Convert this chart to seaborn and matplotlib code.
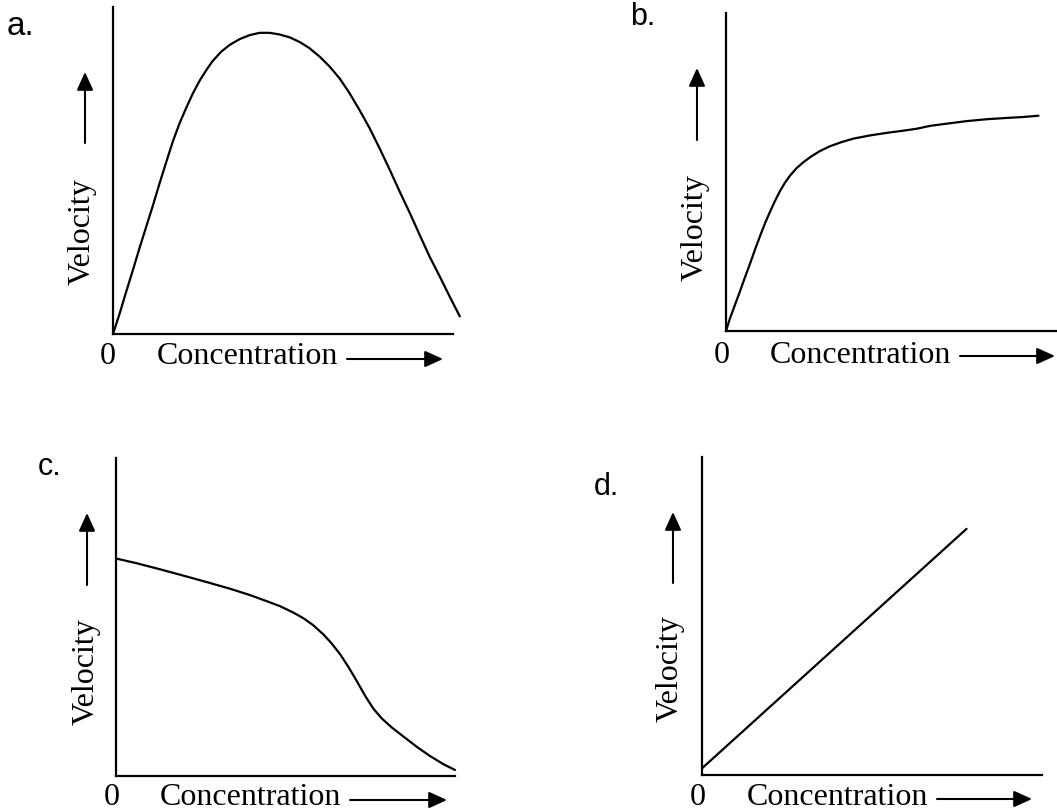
import numpy as np
import pandas as pd
import matplotlib
matplotlib.use("Agg")
import matplotlib.pyplot as plt
import seaborn as sns
from matplotlib.patches import FancyArrowPatch

sns.set_theme(style="white")
plt.rcParams['font.family'] = ['Liberation Serif', 'DejaVu Serif']

# ---------------- data (arbitrary units, axes span 0..10) ----------------
panel_labels = ["a.", "b.", "c.", "d."]
x_label = "Concentration"
y_label = "Velocity"
origin_label = "0"

conc_a = [0.0, 0.20, 0.39, 0.59, 0.78, 0.98, 1.18, 1.37, 1.57, 1.76, 1.96,
          2.16, 2.35, 2.55, 2.75, 2.94, 3.19, 3.43, 3.73, 4.02, 4.31, 4.61,
          4.90, 5.20, 5.49, 5.78, 6.08, 6.37, 6.67, 6.96, 7.25, 7.55, 7.84,
          8.14, 8.43, 8.73, 9.02, 9.31, 9.61, 9.90, 10.2]
vel_a = [0.0, 0.64, 1.30, 1.97, 2.63, 3.29, 3.95, 4.61, 5.27, 5.89, 6.45,
         6.93, 7.36, 7.75, 8.08, 8.36, 8.64, 8.84, 9.02, 9.14, 9.21, 9.21,
         9.16, 9.07, 8.93, 8.74, 8.48, 8.18, 7.81, 7.36, 6.85, 6.29, 5.68,
         5.02, 4.36, 3.70, 3.03, 2.37, 1.76, 1.15, 0.54]

conc_b = [0.0, 0.12, 0.27, 0.42, 0.57, 0.73, 0.88, 1.03, 1.18, 1.33, 1.48,
          1.63, 1.78, 1.93, 2.13, 2.34, 2.59, 2.84, 3.14, 3.49, 3.85, 4.35,
          4.85, 5.36, 5.76, 6.16, 6.67, 7.27, 7.88, 8.48, 8.98, 9.44]
vel_b = [0.0, 0.40, 0.82, 1.24, 1.68, 2.13, 2.57, 2.99, 3.39, 3.75, 4.09,
         4.40, 4.66, 4.88, 5.12, 5.31, 5.50, 5.66, 5.81, 5.94, 6.05, 6.15,
         6.23, 6.30, 6.36, 6.45, 6.52, 6.60, 6.66, 6.70, 6.73, 6.77]

conc_c = [0.0, 0.61, 1.30, 1.99, 2.67, 3.36, 3.95, 4.44, 4.84, 5.23, 5.53,
          5.82, 6.12, 6.36, 6.61, 6.85, 7.10, 7.35, 7.59, 7.84, 8.13, 8.48,
          8.87, 9.26, 9.66, 10.0]
vel_c = [6.84, 6.69, 6.50, 6.30, 6.10, 5.89, 5.69, 5.50, 5.34, 5.14, 4.96,
         4.74, 4.45, 4.17, 3.83, 3.44, 2.99, 2.52, 2.12, 1.81, 1.53, 1.24,
         0.92, 0.63, 0.37, 0.19]

conc_d = [0.0, 7.78]
vel_d = [0.21, 7.74]

series = [(conc_a, vel_a), (conc_b, vel_b), (conc_c, vel_c), (conc_d, vel_d)]

# ---------------- layout (pixels of the 1057x811 canvas) ----------------
W, H = 1057, 811
fig = plt.figure(figsize=(W / 100, H / 100), dpi=100)
fig.patch.set_facecolor("white")


def fx(px):
    return px / W


def fy(py):
    return 1 - py / H


panels = [
    dict(box=(113, 453, 7, 334), lab=(7, 35, 24), vel=(90, 232), vup=(85, 143, 72),
         zero=(100, 364), conc=(157, 364), harr=(347, 443, 359)),
    dict(box=(726, 1057, 13, 331), lab=(630, 25, 22), vel=(703, 228), vup=(697, 140, 68),
         zero=(714, 363), conc=(770, 363), harr=(960, 1055, 356)),
    dict(box=(116, 455, 458, 776), lab=(38, 475, 22), vel=(94, 672), vup=(87, 585, 513),
         zero=(104, 805), conc=(160, 805), harr=(350, 447, 800)),
    dict(box=(702, 1042, 457, 775), lab=(594, 495, 22), vel=(678, 669), vup=(673, 583, 512),
         zero=(690, 805), conc=(747, 805), harr=(937, 1032, 799)),
]

serif = ['Liberation Serif', 'DejaVu Serif']
sans = ['Liberation Sans', 'DejaVu Sans']
arrow_style = '-|>,head_length=0.55,head_width=0.25'

for p, label, (xs, ys) in zip(panels, panel_labels, series):
    x0, x1, yt, yb = p['box']
    ax = fig.add_axes([fx(x0), fy(yb), (x1 - x0) / W, (yb - yt) / H])
    df = pd.DataFrame({"Concentration": xs, "Velocity": ys})
    sns.lineplot(data=df, x="Concentration", y="Velocity", ax=ax, color="black",
                 linewidth=1.6, sort=False, estimator=None)
    for ln in ax.lines:
        ln.set_clip_on(False)
        ln.set_solid_joinstyle('round')
        ln.set_solid_capstyle('round')
    ax.set_xlim(0, 10)
    ax.set_ylim(0, 10)
    ax.set_xticks([])
    ax.set_yticks([])
    ax.set_xlabel("")
    ax.set_ylabel("")
    ax.set_facecolor("none")
    sns.despine(ax=ax)
    for s in ("left", "bottom"):
        ax.spines[s].set_color("black")
        ax.spines[s].set_linewidth(1.6)

    # panel letter
    lx, ly, lsz = p['lab']
    fig.text(fx(lx), fy(ly), label, family=sans, fontsize=lsz, ha='left', va='baseline',
             color='black')
    # Velocity (rotated)
    vx, vy = p['vel']
    fig.text(fx(vx), fy(vy), y_label, family=serif, fontsize=23, rotation=90,
             rotation_mode='anchor', ha='center', va='baseline', color='black')
    # 0 and Concentration
    zx, zy = p['zero']
    fig.text(fx(zx), fy(zy), origin_label, family=serif, fontsize=23, ha='left',
             va='baseline', color='black')
    cx, cy = p['conc']
    fig.text(fx(cx), fy(cy), x_label, family=serif, fontsize=23, ha='left',
             va='baseline', color='black')
    # arrows
    ax_, ay0, ay1 = p['vup']
    fig.add_artist(FancyArrowPatch((fx(ax_), fy(ay0)), (fx(ax_), fy(ay1)),
                                   transform=fig.transFigure, arrowstyle=arrow_style,
                                   mutation_scale=20, color='black', lw=1.5,
                                   shrinkA=0, shrinkB=0))
    hx0, hx1, hy = p['harr']
    fig.add_artist(FancyArrowPatch((fx(hx0), fy(hy)), (fx(hx1), fy(hy)),
                                   transform=fig.transFigure, arrowstyle=arrow_style,
                                   mutation_scale=20, color='black', lw=1.5,
                                   shrinkA=0, shrinkB=0))

fig.savefig("out.png", dpi=100, facecolor="white")
